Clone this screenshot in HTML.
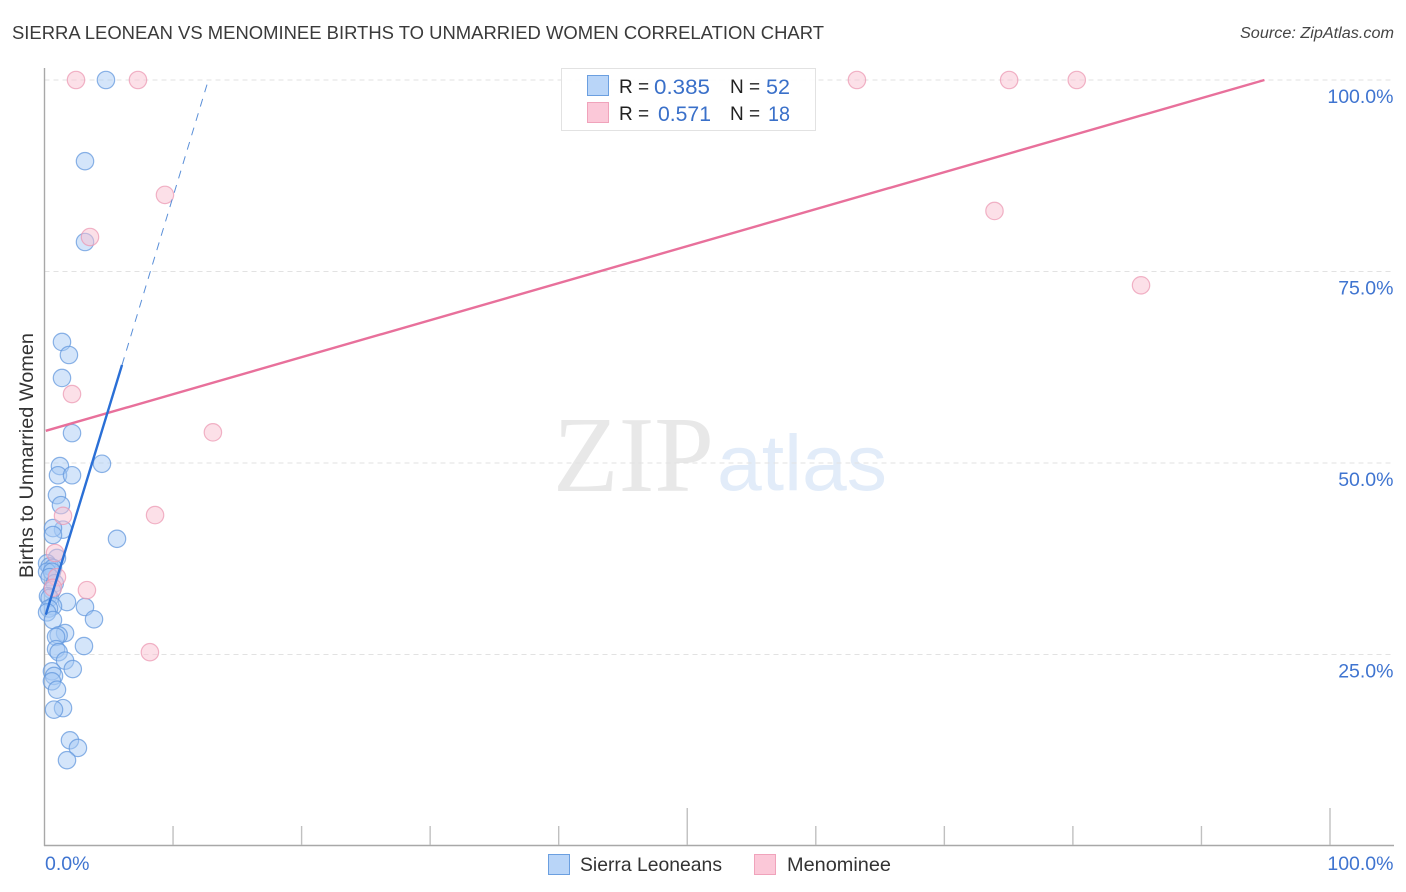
<!DOCTYPE html>
<html>
<head>
<meta charset="utf-8">
<style>
html,body{margin:0;padding:0;background:#fff;width:1406px;height:892px;overflow:hidden}
svg{display:block;font-family:"Liberation Sans",sans-serif}
</style>
</head>
<body>
<svg id="chart" width="1406" height="892" viewBox="0 0 1406 892" xmlns="http://www.w3.org/2000/svg">
  <text x="12" y="39" font-size="18.5" fill="#3a3a3a" textLength="812" lengthAdjust="spacingAndGlyphs">SIERRA LEONEAN VS MENOMINEE BIRTHS TO UNMARRIED WOMEN CORRELATION CHART</text>
  <text x="1394" y="38" font-size="15.5" font-style="italic" fill="#444" text-anchor="end" textLength="154" lengthAdjust="spacingAndGlyphs">Source: ZipAtlas.com</text>
  <text x="553" y="491" font-family="'Liberation Serif',serif" font-size="108" fill="#e8e8e8" textLength="161" lengthAdjust="spacingAndGlyphs">ZIP</text>
  <text x="717" y="490" font-size="79" fill="#e2ecf9" textLength="170" lengthAdjust="spacingAndGlyphs">atlas</text>
  <g id="grid"></g>
  <g id="axes"></g>
  <g id="blue-points"></g>
  <g id="pink-points"></g>
  <g id="trends"></g>
  <text transform="translate(33,578) rotate(-90)" font-size="19" fill="#333" textLength="245" lengthAdjust="spacingAndGlyphs">Births to Unmarried Women</text>
  <g id="tick-labels"></g>

  <g>
    <rect x="561.5" y="68.5" width="254" height="62" fill="#fff" fill-opacity="0.9" stroke="#e2e2e2" stroke-width="1"/>
    <rect x="587.5" y="75.5" width="21" height="20" fill="#b9d5f8" stroke="#6b9fe0"/>
    <rect x="587.5" y="102.5" width="21" height="20" fill="#fbc8d8" stroke="#f0a3bb"/>
    <text x="619" y="93" font-size="19" fill="#222">R =</text>
    <text x="654" y="94" font-size="21" fill="#3a70c9" textLength="56" lengthAdjust="spacingAndGlyphs">0.385</text>
    <text x="730" y="93" font-size="19" fill="#222">N =</text>
    <text x="766" y="94" font-size="21" fill="#3a70c9" textLength="24" lengthAdjust="spacingAndGlyphs">52</text>
    <text x="619" y="120" font-size="19" fill="#222">R =</text>
    <text x="658" y="121" font-size="21" fill="#3a70c9" textLength="53" lengthAdjust="spacingAndGlyphs">0.571</text>
    <text x="730" y="120" font-size="19" fill="#222">N =</text>
    <text x="768" y="121" font-size="21" fill="#3a70c9" textLength="22" lengthAdjust="spacingAndGlyphs">18</text>
  </g>

  <g>
    <rect x="548.5" y="854.5" width="21" height="20" fill="#b9d5f8" stroke="#6b9fe0"/>
    <text x="580" y="871" font-size="19.5" fill="#333" textLength="142" lengthAdjust="spacingAndGlyphs">Sierra Leoneans</text>
    <rect x="754.5" y="854.5" width="21" height="20" fill="#fbc8d8" stroke="#f0a3bb"/>
    <text x="787" y="871" font-size="19.5" fill="#333" textLength="104" lengthAdjust="spacingAndGlyphs">Menominee</text>
  </g>
</svg>
<script>
var blueX = [4.78,3.15,3.15,1.36,1.9,1.36,2.14,4.47,1.2,1.05,2.14,0.97,1.28,1.44,0.66,0.66,5.64,0.97,0.2,0.4,0.66,0.2,0.58,0.4,0.8,0.58,0.27,0.4,1.75,3.15,0.66,0.35,0.2,0.66,3.85,1.6,1.1,0.9,3.07,0.9,1.1,1.6,2.2,0.58,0.74,0.58,0.97,1.44,0.74,1.98,2.6,1.75];
var blueY = [100,89.4,78.85,65.8,64.1,61.1,53.9,49.9,49.6,48.4,48.4,45.8,44.5,41.3,41.5,40.6,40.1,37.6,36.9,36.5,36.3,35.8,35.8,35.1,34.3,33.4,32.6,32.4,31.85,31.2,31.3,31.0,30.5,29.5,29.6,27.8,27.5,27.3,26.1,25.7,25.3,24.2,23.1,22.8,22.2,21.5,20.4,18,17.8,13.8,12.8,11.2];
var pinkX = [2.45,7.27,63.2,75.04,80.3,9.37,3.54,73.9,85.3,2.14,13.1,8.6,1.44,0.82,0.97,3.3,0.66,8.2];
var pinkY = [100,100,100,100,100,85,79.5,82.9,73.2,59,54,43.2,43.1,38.25,35.1,33.4,33.7,25.3];
var blueTrendX = [0.1,6.03];
var blueTrendY = [30.2,62.8];
var blueDashX = [6.03,12.64];
var blueDashY = [62.8,99.4];
var pinkTrendX = [0.1,94.9];
var pinkTrendY = [54.2,100];
var yTicks = [100,75,50,25];
var yTickLabels = ["100.0%","75.0%","50.0%","25.0%"];
var xTicks = [10,20,30,40,50,60,70,80,90,100];
var xTickLabels = ["0.0%","100.0%"];

var NS = "http://www.w3.org/2000/svg";
function sx(v){ return 44.5 + v * 12.855; }
function sy(v){ return 846 - v * 7.66; }
function make(tag, attrs, parent){
  var el = document.createElementNS(NS, tag);
  for (var k in attrs) el.setAttribute(k, attrs[k]);
  parent.appendChild(el);
  return el;
}
var grid = document.getElementById("grid");
var axes = document.getElementById("axes");
var labels = document.getElementById("tick-labels");
var bluePts = document.getElementById("blue-points");
var pinkPts = document.getElementById("pink-points");
var trends = document.getElementById("trends");

yTicks.forEach(function(t, i){
  var g = make("line", {x1:44.5, x2:1393, y1:sy(t), y2:sy(t), stroke:"#e2e2e2", "stroke-width":1, "stroke-dasharray":"5 4"}, grid);
  
  
  var tx = make("text", {x:1393.5, y:sy(t)+23, "font-size":19.5, fill:"#3f74d0", "text-anchor":"end"}, labels);
  tx.textContent = yTickLabels[i];
  
  
});

var yAxis = make("line", {x1:44.5, x2:44.5, y1:68, y2:846, stroke:"#a8a8a8", "stroke-width":1.4}, axes);


var xAxis = make("line", {x1:44, x2:1394, y1:845.5, y2:845.5, stroke:"#a8a8a8", "stroke-width":1.4}, axes);



xTicks.forEach(function(t){
  var tall = t % 50 === 0;
  var m = make("line", {x1:sx(t), x2:sx(t), y1:tall ? 808 : 826, y2:845, stroke:"#c0c0c0", "stroke-width":1.4}, axes);
  
  
});

var xl0 = make("text", {x:45, y:870, "font-size":19.5, fill:"#3f74d0"}, labels);
xl0.textContent = xTickLabels[0];


var xl1 = make("text", {x:1393.5, y:870, "font-size":19.5, fill:"#3f74d0", "text-anchor":"end"}, labels);
xl1.textContent = xTickLabels[1];



blueX.forEach(function(v, i){
  var c = make("circle", {cx:sx(v), cy:sy(blueY[i]), r:8.7, fill:"#a6c9f4", "fill-opacity":0.48, stroke:"#5f96dd", "stroke-opacity":0.72, "stroke-width":1.2}, bluePts);
  
  
});
pinkX.forEach(function(v, i){
  var c = make("circle", {cx:sx(v), cy:sy(pinkY[i]), r:8.7, fill:"#f9c2d2", "fill-opacity":0.5, stroke:"#eb97b2", "stroke-opacity":0.72, "stroke-width":1.2}, pinkPts);
  
  
});

var pinkLine = make("line", {x1:sx(pinkTrendX[0]), y1:sy(pinkTrendY[0]), x2:sx(pinkTrendX[1]), y2:sy(pinkTrendY[1]), stroke:"#e8709b", "stroke-width":2.4}, trends);


var blueLine = make("line", {x1:sx(blueTrendX[0]), y1:sy(blueTrendY[0]), x2:sx(blueTrendX[1]), y2:sy(blueTrendY[1]), stroke:"#2a6fd6", "stroke-width":2.4}, trends);


var blueDash = make("line", {x1:sx(blueDashX[0]), y1:sy(blueDashY[0]), x2:sx(blueDashX[1]), y2:sy(blueDashY[1]), stroke:"#5a8fd8", "stroke-width":1, "stroke-dasharray":"8 7"}, trends);


</script>
</body>
</html>
